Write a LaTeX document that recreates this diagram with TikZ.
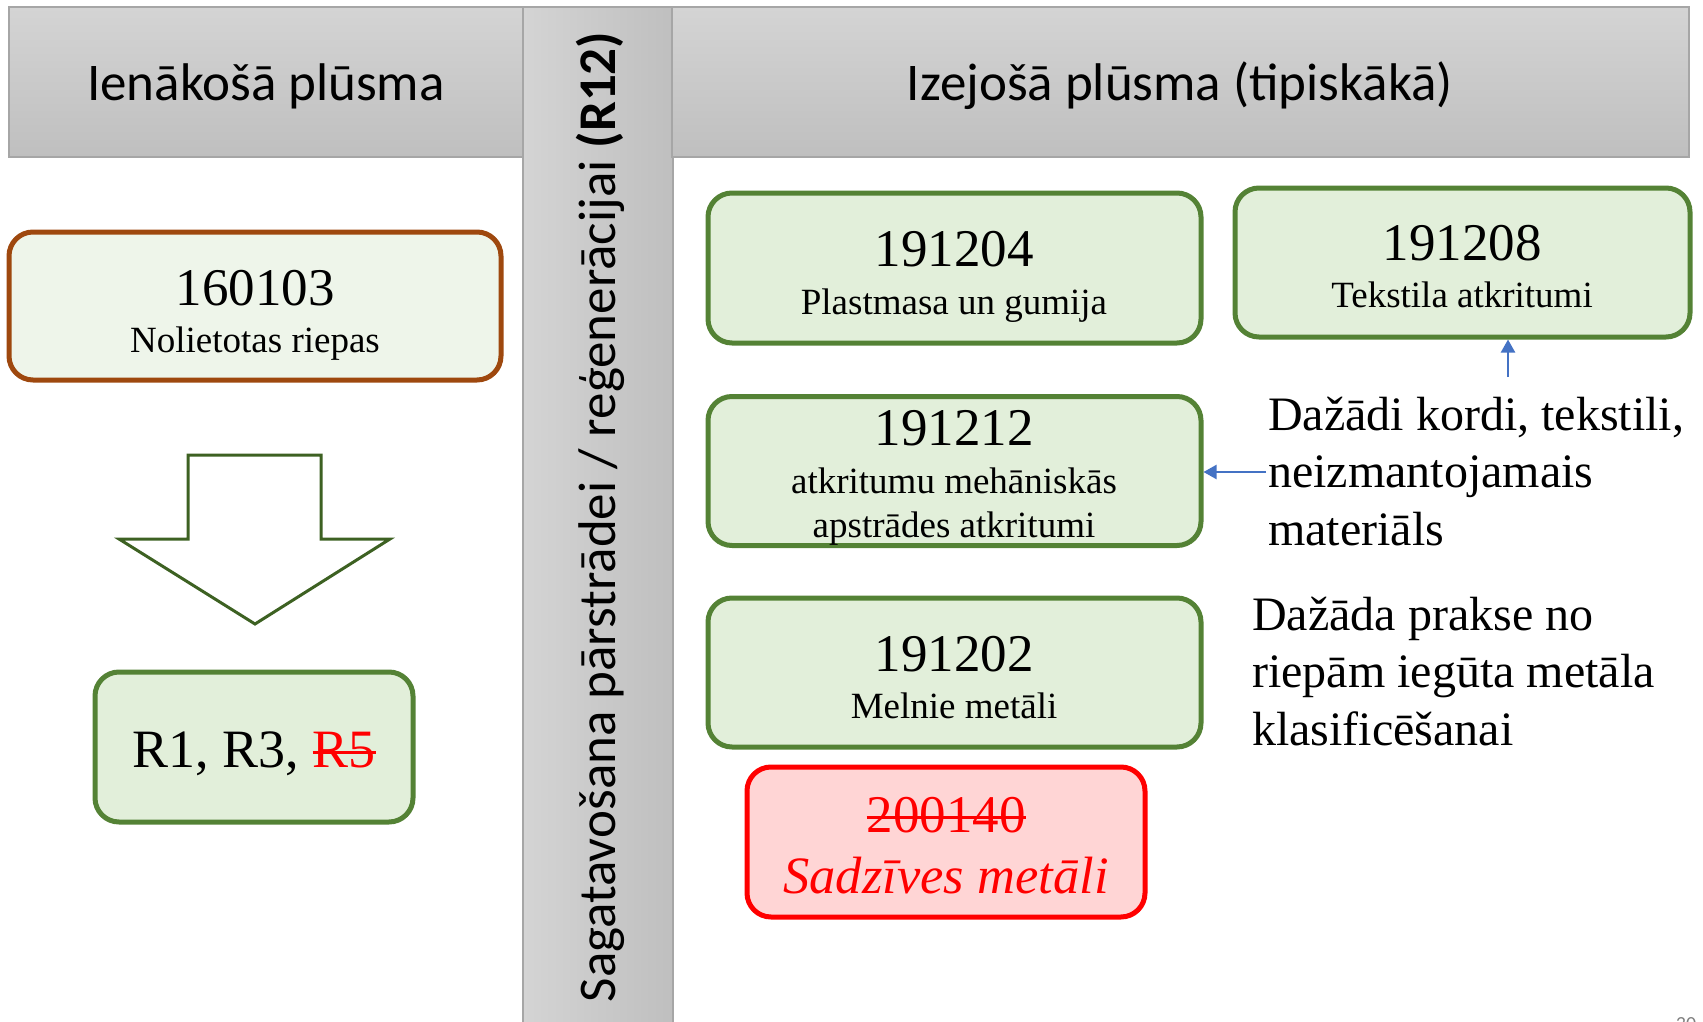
\documentclass[tikz,border=0pt]{standalone}
\usepackage{fontspec}
\setmainfont{Liberation Serif}
\newfontfamily\hdrfont{Carlito}
\usetikzlibrary{arrows.meta}
\definecolor{hdrtop}{HTML}{D4D4D4}
\definecolor{hdrbot}{HTML}{BFBFBF}
\definecolor{hdrline}{HTML}{A6A6A6}
\definecolor{grnline}{HTML}{548235}
\definecolor{grnfill}{HTML}{E2EFDA}
\definecolor{brnline}{HTML}{9E480E}
\definecolor{brnfill}{HTML}{EEF5EA}
\definecolor{redfill}{HTML}{FFD5D5}
\definecolor{arrline}{HTML}{3D6122}
\definecolor{blueln}{HTML}{4472C4}
\newcommand\xstrike[1]{\setbox0=\hbox{#1}\rlap{\copy0}\rule[0.25em]{\wd0}{0.055em}}
\newcommand\fs[1]{\fontsize{#1}{#1}\selectfont}
\tikzset{
  hdr/.style={draw=hdrline, line width=1.2pt, top color=hdrtop, bottom color=hdrbot},
  codebox/.style={rectangle, rounded corners=24pt, line width=5pt, inner sep=0pt},
  grnbox/.style={codebox, draw=grnline, fill=grnfill},
  brnbox/.style={codebox, draw=brnline, fill=brnfill},
  redbox/.style={codebox, draw=red, fill=redfill},
  numtxt/.style={anchor=base, inner sep=0pt, font=\fs{53}},
  subtxt/.style={anchor=base, inner sep=0pt, font=\fs{37}},
  notetxt/.style={anchor=base west, inner sep=0pt, align=left, font=\fontsize{48}{57.5}\selectfont},
  bluearr/.style={draw=blueln, line width=2.2pt, -{Triangle[length=13pt,width=14pt]}},
  hdrtxt/.style={anchor=base, inner sep=0pt, font=\hdrfont\fs{53}}
}
\begin{document}
\begin{tikzpicture}[x=1pt,y=-1pt]
\useasboundingbox (0,0) rectangle (1703,1022);
% headers
\path[hdr] (9,7) rectangle (523,157);
\path[draw=hdrline, line width=1.2pt, left color=hdrtop, right color=hdrbot] (523,7) rectangle (673,1030);
\path[hdr] (672,7) rectangle (1689,157);
\node[hdrtxt] (hin) at (266,101) {Ienākošā plūsma};
\node[hdrtxt] (hout) at (1180,101) {Izejošā plūsma (tipiskākā)};
\node[rotate=90, inner sep=0pt, font=\hdrfont\fs{53}] (hmid) at (600,517)
  {Sagatavošana pārstrādei / reģenerācijai \textbf{(R12)}};
% left column
\node[brnbox, minimum width=492pt, minimum height=148pt] (b160103) at (255,306) {};
\node[numtxt] (t160103) at (255,305) {160103};
\node[subtxt] (s160103) at (255,352) {Nolietotas riepas};
\draw[arrline, line width=3pt, fill=white, line join=miter]
  (188,455) -- (321,455) -- (321,539) -- (390,539) -- (255,624) -- (119,539) -- (188,539) -- cycle;
\node[grnbox, minimum width=318pt, minimum height=150pt] (bR) at (254,747) {};
\node[anchor=base, inner sep=0pt, font=\fs{54}] (tR) at (254,767)
  {R1, R3, {\color{red}\xstrike{R5}}};
% right column
\node[grnbox, minimum width=493pt, minimum height=150pt] (b191204) at (954.5,268) {};
\node[numtxt] (t191204) at (954,266) {191204};
\node[subtxt] (s191204) at (954,314) {Plastmasa un gumija};
\node[grnbox, minimum width=455pt, minimum height=149pt] (b191208) at (1462.5,262.5) {};
\node[numtxt] (t191208) at (1462,260) {191208};
\node[subtxt] (s191208) at (1462,307) {Tekstila atkritumi};
\node[grnbox, minimum width=493pt, minimum height=149pt] (b191212) at (954.5,471) {};
\node[numtxt] (t191212) at (954,445) {191212};
\node[subtxt] (s191212a) at (954,493) {atkritumu mehāniskās};
\node[subtxt] (s191212b) at (954,537) {apstrādes atkritumi};
\node[grnbox, minimum width=493pt, minimum height=149pt] (b191202) at (954.5,672.5) {};
\node[numtxt] (t191202) at (954,671) {191202};
\node[subtxt] (s191202) at (954,718) {Melnie metāli};
\node[redbox, minimum width=398pt, minimum height=150pt] (b200140) at (946,842) {};
\node[numtxt, text=red] (t200140) at (946,832) {\xstrike{200140}};
\node[anchor=base, inner sep=0pt, text=red, font=\itshape\fs{52.5}] (s200140) at (946,893) {Sadzīves metāli};
% notes (base anchor = last line)
\node[notetxt] (n1) at (1268,545) {Dažādi kordi, tekstili,\\neizmantojamais\\materiāls};
\node[notetxt] (n2) at (1252,745) {Dažāda prakse no\\riepām iegūta metāla\\klasificēšanai};
\coordinate (a1s) at (1508,377);
\coordinate (a2s) at (1266,472);
\draw[bluearr] (a1s) -- (a1s |- b191208.south);
\draw[bluearr] (a2s) -- (a2s -| b191212.east);
% page number
\node[anchor=base, inner sep=0pt, text=gray, font=\hdrfont\fs{20}] (pg) at (1686,1030) {30};
\end{tikzpicture}
\end{document}
